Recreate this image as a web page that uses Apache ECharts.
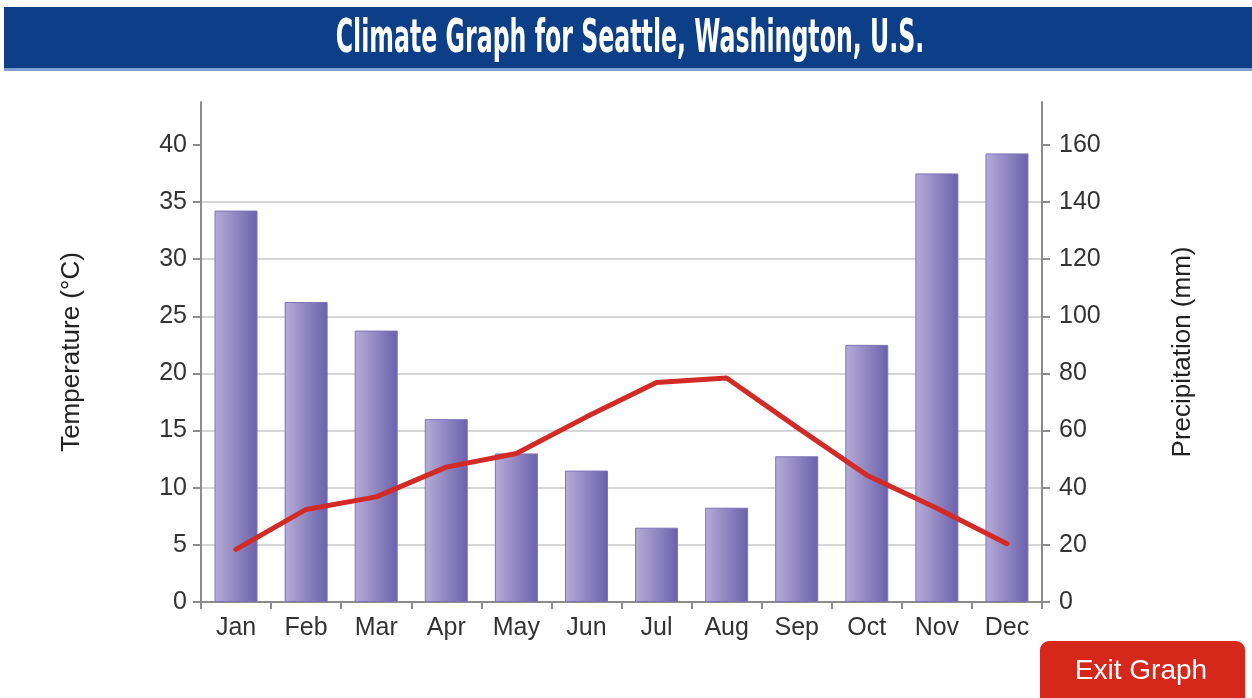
<!DOCTYPE html>
<html>
<head>
<meta charset="utf-8">
<script src="https://cdn.jsdelivr.net/npm/echarts@6/dist/echarts.min.js"></script>
<style>
  html, body { margin: 0; padding: 0; background: #ffffff; }
  #chart { width: 1252px; height: 698px; }
</style>
</head>
<body>
<div id="chart"></div>
<script>
// Monthly climate normals for Seattle
const months = ['Jan', 'Feb', 'Mar', 'Apr', 'May', 'Jun', 'Jul', 'Aug', 'Sep', 'Oct', 'Nov', 'Dec'];
const precipitationMm = [137, 105, 95, 64, 52, 46, 26, 33, 51, 90, 150, 157];
const temperatureC = [4.6, 8.1, 9.2, 11.8, 13.0, 16.2, 19.2, 19.6, 15.3, 11.1, 8.2, 5.1];
const tempTicks = [0, 5, 10, 15, 20, 25, 30, 35, 40];
const precipTicks = [0, 20, 40, 60, 80, 100, 120, 140, 160];

const chart = echarts.init(document.getElementById('chart'), null, { renderer: 'canvas' });

const labelFont = { fontFamily: 'Liberation Sans, Arial, sans-serif', fontSize: 25, color: '#333333' };
const nameFont = { fontFamily: 'Liberation Sans, Arial, sans-serif', fontSize: 26, color: '#222222' };
const axisGray = '#8c8c8c';

chart.setOption({
  backgroundColor: '#ffffff',
  animation: false,
  graphic: [
    { type: 'rect', shape: { x: 4, y: 7, width: 1252, height: 63 }, style: { fill: '#0c3f87' }, z: 10 },
    { type: 'rect', shape: { x: 4, y: 68, width: 1252, height: 3 }, style: { fill: '#7e9fd0' }, z: 10 },
    {
      type: 'text', x: 630, y: 40, z: 11, scaleX: 0.56,
      style: {
        text: 'Climate Graph for Seattle, Washington, U.S.',
        font: 'bold 47px "Liberation Sans Narrow", "DejaVu Sans Condensed", sans-serif',
        fill: '#ffffff', align: 'center', verticalAlign: 'middle'
      }
    },
    { type: 'rect', shape: { x: 1040, y: 641, width: 205, height: 70, r: 9 }, style: { fill: '#d5281b' }, z: 10 },
    {
      type: 'text', x: 1141, y: 671, z: 11,
      style: {
        text: 'Exit Graph', font: '28px "Liberation Sans", Arial, sans-serif',
        fill: '#ffffff', align: 'center', verticalAlign: 'middle'
      }
    }
  ],
  grid: { left: 201, right: 210, top: 102, bottom: 96, containLabel: false },
  xAxis: {
    type: 'category',
    data: months,
    boundaryGap: true,
    axisLine: { lineStyle: { color: axisGray, width: 2 } },
    axisTick: { show: true, length: 7, lineStyle: { color: axisGray, width: 2 } },
    axisLabel: Object.assign({ margin: 14 }, labelFont)
  },
  yAxis: [
    {
      type: 'value', min: 0, max: 43.75, interval: 5,
      name: 'Temperature (°C)', nameLocation: 'middle', nameGap: 116, nameRotate: 90,
      nameTextStyle: nameFont,
      axisLine: { show: true, lineStyle: { color: axisGray, width: 2 } },
      axisTick: { show: true, length: 8, lineStyle: { color: axisGray, width: 2 }, customValues: tempTicks },
      axisLabel: Object.assign({ margin: 14, customValues: tempTicks }, labelFont),
      splitLine: { show: true, showMaxLine: false, lineStyle: { color: '#d6d6d6', width: 2 } }
    },
    {
      type: 'value', min: 0, max: 175, interval: 20,
      name: 'Precipitation (mm)', nameLocation: 'middle', nameGap: 128, nameRotate: 90,
      nameTextStyle: nameFont,
      axisLine: { show: true, lineStyle: { color: axisGray, width: 2 } },
      axisTick: { show: true, length: 8, lineStyle: { color: axisGray, width: 2 }, customValues: precipTicks },
      axisLabel: Object.assign({ margin: 17, customValues: precipTicks }, labelFont),
      splitLine: { show: false }
    }
  ],
  series: [
    {
      name: 'Precipitation',
      type: 'bar',
      yAxisIndex: 1,
      data: precipitationMm,
      barWidth: 43,
      itemStyle: {
        color: new echarts.graphic.LinearGradient(0, 0, 1, 0, [
          { offset: 0, color: '#b6acd8' },
          { offset: 1, color: '#6a61ab' }
        ]),
        borderColor: '#7d74b8',
        borderWidth: 1
      },
      z: 2
    },
    {
      name: 'Temperature',
      type: 'line',
      yAxisIndex: 0,
      data: temperatureC,
      showSymbol: false,
      symbol: 'none',
      lineStyle: { color: '#d22a27', width: 5, cap: 'round', join: 'round' },
      z: 5
    }
  ]
});
</script>
</body>
</html>
